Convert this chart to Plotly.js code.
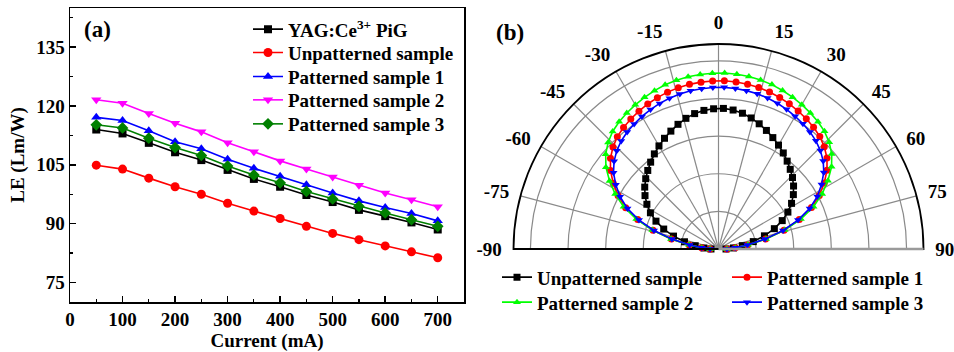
<!DOCTYPE html>
<html>
<head>
<meta charset="utf-8">
<script src="https://cdn.plot.ly/plotly-3.0.1.min.js"></script>
<style>html,body{margin:0;padding:0;background:#fff;}#chart{width:954px;height:352px;}</style>
</head>
<body>
<div id="chart"></div>
<script>
// ---------- panel (a) data ----------
const current = [50, 100, 150, 200, 250, 300, 350, 400, 450, 500, 550, 600, 650, 700];
const leYAG = [114.0, 113.0, 110.6, 108.2, 106.2, 103.7, 101.4, 99.4, 97.3, 95.5, 93.5, 91.9, 90.3, 88.5];
const leUnpatterned = [104.9, 103.9, 101.6, 99.4, 97.5, 95.2, 93.2, 91.3, 89.3, 87.5, 85.9, 84.3, 82.8, 81.3];
const leP1 = [117.1, 116.3, 113.7, 110.9, 109.1, 106.4, 104.1, 102.1, 99.9, 97.8, 95.8, 94.1, 92.6, 90.7];
const leP2 = [121.6, 120.7, 118.1, 115.6, 113.4, 110.6, 108.3, 106.0, 103.9, 101.9, 99.8, 97.8, 96.1, 94.3];
const leP3 = [115.2, 114.4, 111.8, 109.4, 107.4, 104.7, 102.4, 100.4, 98.2, 96.3, 94.4, 92.7, 91.0, 89.3];
const namesA = ['YAG:Ce<sup>3+</sup> PiG', 'Unpatterned sample', 'Patterned sample 1', 'Patterned sample 2', 'Patterned sample 3'];
const xTicks = [0, 100, 200, 300, 400, 500, 600, 700];
const yTicks = [75, 90, 105, 120, 135];

// ---------- panel (b) data ----------
const angle = [-90, -86, -82, -78, -74, -70, -66, -62, -58, -54, -50, -46, -42, -38, -34, -30, -26, -22, -18, -14, -10, -6, -2,
               2, 6, 10, 14, 18, 22, 26, 30, 34, 38, 42, 46, 50, 54, 58, 62, 66, 70, 74, 78, 82, 86, 90];
const rUnpatterned = [0.040, 0.078, 0.125, 0.185, 0.249, 0.310, 0.364, 0.410, 0.449, 0.483, 0.512, 0.538, 0.562, 0.586, 0.610, 0.633, 0.655, 0.676, 0.697, 0.716, 0.731, 0.741, 0.746,
                      0.748, 0.743, 0.733, 0.718, 0.700, 0.680, 0.659, 0.638, 0.616, 0.593, 0.570, 0.547, 0.521, 0.492, 0.458, 0.418, 0.371, 0.316, 0.254, 0.189, 0.128, 0.080, 0.040];
const rP1 = [0.045, 0.090, 0.157, 0.256, 0.362, 0.457, 0.540, 0.605, 0.660, 0.710, 0.750, 0.780, 0.804, 0.820, 0.834, 0.846, 0.858, 0.868, 0.877, 0.884, 0.889, 0.892, 0.894,
             0.895, 0.893, 0.890, 0.885, 0.878, 0.869, 0.859, 0.847, 0.835, 0.821, 0.805, 0.782, 0.753, 0.713, 0.663, 0.607, 0.541, 0.457, 0.362, 0.256, 0.157, 0.090, 0.045];
const rP2 = [0.045, 0.090, 0.158, 0.258, 0.366, 0.465, 0.552, 0.622, 0.683, 0.740, 0.783, 0.816, 0.841, 0.858, 0.872, 0.885, 0.897, 0.908, 0.918, 0.925, 0.930, 0.933, 0.935,
             0.936, 0.934, 0.931, 0.926, 0.919, 0.909, 0.898, 0.886, 0.873, 0.859, 0.842, 0.818, 0.786, 0.743, 0.686, 0.624, 0.553, 0.466, 0.366, 0.258, 0.158, 0.090, 0.045];
const rP3 = [0.045, 0.089, 0.155, 0.253, 0.357, 0.450, 0.530, 0.593, 0.644, 0.690, 0.725, 0.752, 0.773, 0.789, 0.802, 0.814, 0.825, 0.835, 0.843, 0.850, 0.854, 0.857, 0.859,
             0.860, 0.858, 0.855, 0.851, 0.844, 0.836, 0.826, 0.815, 0.803, 0.790, 0.774, 0.753, 0.727, 0.692, 0.646, 0.595, 0.531, 0.450, 0.357, 0.253, 0.155, 0.089, 0.045];
const namesB = ['Unpatterned sample', 'Patterned sample 1', 'Patterned sample 2', 'Patterned sample 3'];
const angTicks = [-90, -75, -60, -45, -30, -15, 0, 15, 30, 45, 60, 75, 90];
const angMinorTicks = [-90, -82.5, -75, -67.5, -60, -52.5, -45, -37.5, -30, -22.5, -15, -7.5, 0, 7.5, 15, 22.5, 30, 37.5, 45, 52.5, 60, 67.5, 75, 82.5, 90];

const FONT = 'Liberation Serif, Times New Roman, serif';
const tf = (s) => ({family: FONT, size: s, color: '#000', weight: 'bold'});
const W = 954, H = 352;
const px = (v) => v / W, py = (v) => 1 - v / H;

const seriesA = [leYAG, leUnpatterned, leP1, leP2, leP3];
const colA = ['#000000', '#ff0000', '#0000ff', '#ff00ff', '#008000'];
const symA = ['square', 'circle', 'triangle-up', 'triangle-down', 'diamond'];
const sizeA = [8, 9, 9, 9, 9];
const legA = ['legend', 'legend3', 'legend4', 'legend5', 'legend6'];
const legAy = [29.3, 52.7, 76.7, 100, 124];

const seriesB = [rUnpatterned, rP1, rP2, rP3];
const colB = ['#000000', '#ff0000', '#00ff00', '#0000ff'];
const symB = ['square', 'circle', 'triangle-up', 'triangle-down'];
const legB = ['legend2', 'legend7', 'legend8', 'legend9'];
const legBx = [497, 727, 497, 727];
const legBy = [277.3, 277.3, 302.3, 302.3];

const traces = [];
seriesA.forEach((ys, i) => {
  traces.push({
    type: 'scatter', mode: 'lines+markers', x: current, y: ys, name: namesA[i],
    line: {color: colA[i], width: 1.6},
    marker: {color: colA[i], symbol: symA[i], size: sizeA[i]},
    xaxis: 'x', yaxis: 'y', legend: legA[i]
  });
});
seriesB.forEach((rs, i) => {
  traces.push({
    type: 'scatterpolar', mode: 'lines+markers', r: rs, theta: angle, name: namesB[i],
    line: {color: colB[i], width: 1.6},
    marker: {color: colB[i], symbol: symB[i], size: 7},
    subplot: 'polar2', legend: legB[i]
  });
});

const polarDomain = {x: [px(513.5), px(923.5)], y: [py(249), py(44)]};

const layout = {
  width: W, height: H,
  margin: {l: 0, r: 0, t: 0, b: 0, autoexpand: false},
  paper_bgcolor: '#fff', plot_bgcolor: '#fff',
  showlegend: true,
  font: tf(18),
  xaxis: {
    domain: [px(70), px(464)], range: [0, 750],
    tickmode: 'array', tickvals: xTicks,
    ticks: 'inside', ticklen: 6, tickwidth: 1.5, tickcolor: '#000',
    minor: {ticks: 'inside', ticklen: 3, tickwidth: 1.2, dtick: 50, tick0: 0, tickcolor: '#000'},
    showline: true, linecolor: '#000', linewidth: 1.5, mirror: true,
    showgrid: false, zeroline: false,
    tickfont: tf(19),
    title: {text: 'Current (mA)', font: tf(19), standoff: 8}
  },
  yaxis: {
    domain: [py(302), py(8)], range: [70, 145],
    tickmode: 'array', tickvals: yTicks,
    ticks: 'inside', ticklen: 6, tickwidth: 1.5, tickcolor: '#000',
    minor: {ticks: 'inside', ticklen: 3, tickwidth: 1.2, dtick: 7.5, tick0: 75, tickcolor: '#000'},
    showline: true, linecolor: '#000', linewidth: 1.5, mirror: true,
    showgrid: false, zeroline: false,
    tickfont: tf(19),
    title: {text: 'LE (Lm/W)', font: tf(19), standoff: 6}
  },
  polar: {
    domain: polarDomain, sector: [0, 180], bgcolor: '#fff',
    angularaxis: {
      rotation: 90, direction: 'clockwise', tickmode: 'array', tickvals: angMinorTicks,
      showticklabels: false, ticks: 'inside', ticklen: 5, tickcolor: '#000', tickwidth: 1.2,
      showline: false, showgrid: true, gridcolor: '#e4e4e4', gridwidth: 1
    },
    radialaxis: {
      range: [0, 1.09], tick0: 0, dtick: 0.1, showticklabels: false, ticks: '', angle: 180,
      showline: true, linecolor: '#9a9a9a', linewidth: 2.5,
      showgrid: true, gridcolor: '#e4e4e4', gridwidth: 1
    }
  },
  polar2: {
    domain: polarDomain, sector: [0, 180], bgcolor: 'rgba(0,0,0,0)',
    angularaxis: {
      rotation: 90, direction: 'clockwise', tickmode: 'array', tickvals: angTicks,
      ticktext: angTicks.map(String), tickfont: tf(19),
      ticks: 'outside', ticklen: 7, tickcolor: 'rgba(0,0,0,0)', tickwidth: 1,
      showline: true, linecolor: '#000', linewidth: 1.8,
      showgrid: true, gridcolor: '#8a8a8a', gridwidth: 1.2
    },
    radialaxis: {
      range: [0, 1.09], tick0: 0, dtick: 0.2, showticklabels: false, ticks: '',
      showline: true, linecolor: '#9a9a9a', linewidth: 2.5,
      showgrid: true, gridcolor: '#8a8a8a', gridwidth: 1.2
    }
  },
  annotations: [
    {text: '(a)', xref: 'paper', yref: 'paper', x: px(82), y: py(30), xanchor: 'left', yanchor: 'middle', showarrow: false, font: tf(23)},
    {text: '(b)', xref: 'paper', yref: 'paper', x: px(494), y: py(32), xanchor: 'left', yanchor: 'middle', showarrow: false, font: tf(23)}
  ]
};

legA.forEach((id, i) => {
  layout[id] = {x: px(248), y: py(legAy[i]), xanchor: 'left', yanchor: 'middle',
                bgcolor: 'rgba(0,0,0,0)', font: tf(19), borderwidth: 0};
});
legB.forEach((id, i) => {
  layout[id] = {x: px(legBx[i]), y: py(legBy[i]), xanchor: 'left', yanchor: 'middle',
                bgcolor: 'rgba(0,0,0,0)', font: tf(19), borderwidth: 0};
});

Plotly.newPlot('chart', traces, layout, {displayModeBar: false, staticPlot: true});
</script>
</body>
</html>
